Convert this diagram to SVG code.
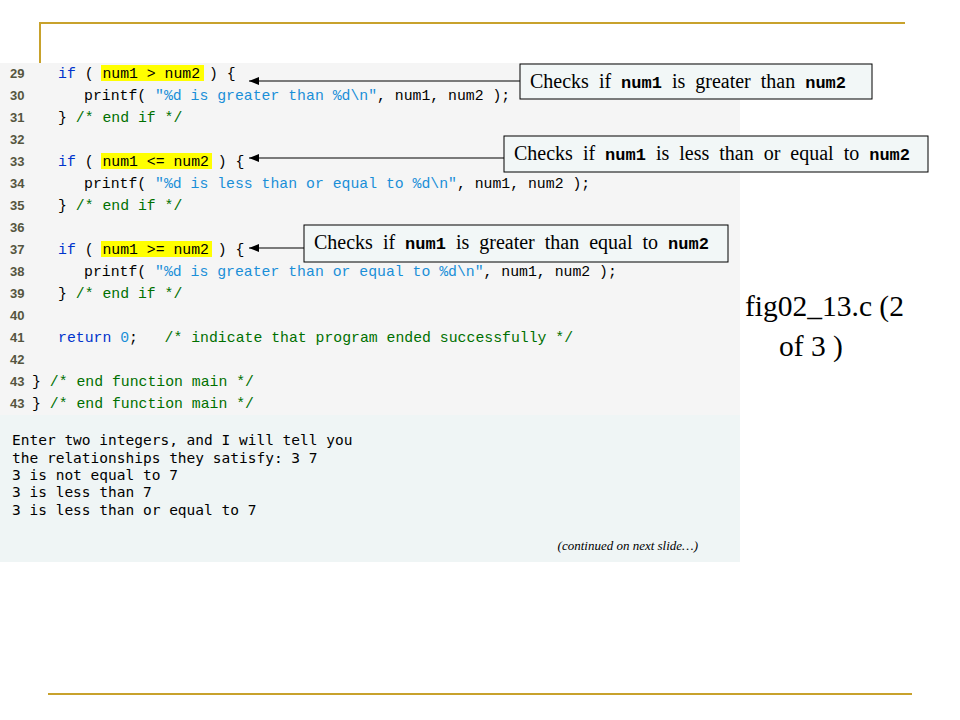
<svg xmlns="http://www.w3.org/2000/svg" width="960" height="720" viewBox="0 0 960 720" xml:space="preserve">
<style>
.c{font-family:"Liberation Mono","DejaVu Sans Mono",monospace;font-size:14.8px;fill:#000;white-space:pre}
.n{font-family:"Liberation Sans",Arial,sans-serif;font-size:13px;font-weight:bold;fill:#555540}
.k{fill:#0033cc}.s{fill:#1a8fd8}.g{fill:#007000}
.o{font-family:"DejaVu Sans Mono",monospace;font-size:14.5px;fill:#000}
.t{font-family:"Liberation Serif","Times New Roman",serif;font-size:20px;fill:#000;word-spacing:5px}
.b{font-family:"Liberation Mono",monospace;font-weight:bold;font-size:17px;word-spacing:0}
.box{fill:#f2f7f7;stroke:#000;stroke-width:1}
.hl{fill:#ffff00}
</style>
<defs><marker id="a" markerWidth="10" markerHeight="8" refX="10" refY="4" orient="auto" markerUnits="userSpaceOnUse"><path d="M0,0 L10,4 L0,8 Z" fill="#000"/></marker></defs>
<rect width="960" height="720" fill="#fff"/>
<path d="M40,63 V23 H905" fill="none" stroke="#c8a22c" stroke-width="2"/>
<line x1="48" y1="694" x2="912" y2="694" stroke="#c8a22c" stroke-width="2"/>
<rect x="0" y="63" width="740" height="352" fill="#f5f5f5"/>
<rect x="0" y="415" width="740" height="147" fill="#eff5f5"/>
<g id="code">
<rect class="hl" x="101" y="65" width="103" height="16"/>
<rect class="hl" x="101" y="153" width="111" height="16"/>
<rect class="hl" x="101" y="241" width="111" height="16"/>
<text class="n" x="10" y="78">29</text><text class="c" x="58" y="78"><tspan class="k">if</tspan> ( num1 &gt; num2 ) {</text>
<text class="n" x="10" y="100">30</text><text class="c" x="84" y="100">printf( <tspan class="s">"%d is greater than %d\n"</tspan>, num1, num2 );</text>
<text class="n" x="10" y="122">31</text><text class="c" x="58" y="122">} <tspan class="g">/* end if */</tspan></text>
<text class="n" x="10" y="144">32</text>
<text class="n" x="10" y="166">33</text><text class="c" x="58" y="166"><tspan class="k">if</tspan> ( num1 &lt;= num2 ) {</text>
<text class="n" x="10" y="188">34</text><text class="c" x="84" y="188">printf( <tspan class="s">"%d is less than or equal to %d\n"</tspan>, num1, num2 );</text>
<text class="n" x="10" y="210">35</text><text class="c" x="58" y="210">} <tspan class="g">/* end if */</tspan></text>
<text class="n" x="10" y="232">36</text>
<text class="n" x="10" y="254">37</text><text class="c" x="58" y="254"><tspan class="k">if</tspan> ( num1 &gt;= num2 ) {</text>
<text class="n" x="10" y="276">38</text><text class="c" x="84" y="276">printf( <tspan class="s">"%d is greater than or equal to %d\n"</tspan>, num1, num2 );</text>
<text class="n" x="10" y="298">39</text><text class="c" x="58" y="298">} <tspan class="g">/* end if */</tspan></text>
<text class="n" x="10" y="320">40</text>
<text class="n" x="10" y="342">41</text><text class="c" x="58" y="342"><tspan class="k">return</tspan> <tspan class="s">0</tspan>;   <tspan class="g">/* indicate that program ended successfully */</tspan></text>
<text class="n" x="10" y="364">42</text>
<text class="n" x="10" y="386">43</text><text class="c" x="32" y="386">} <tspan class="g">/* end function main */</tspan></text>
<text class="n" x="10" y="408">43</text><text class="c" x="32" y="408">} <tspan class="g">/* end function main */</tspan></text>
</g>
<g id="output">
<text class="o" x="12" y="445">Enter two integers, and I will tell you</text>
<text class="o" x="12" y="463">the relationships they satisfy: 3 7</text>
<text class="o" x="12" y="480">3 is not equal to 7</text>
<text class="o" x="12" y="497">3 is less than 7</text>
<text class="o" x="12" y="515">3 is less than or equal to 7</text>
<text x="698" y="550" text-anchor="end" font-family="Liberation Serif,serif" font-style="italic" font-size="13px">(continued on next slide…)</text>
</g>
<g id="connectors" stroke="#000" stroke-width="1.2">
<line x1="520" y1="81" x2="249" y2="81" marker-end="url(#a)"/>
<line x1="504" y1="158" x2="249" y2="158" marker-end="url(#a)"/>
<line x1="304" y1="248" x2="249" y2="248" marker-end="url(#a)"/>
</g>
<g id="note1"><rect class="box" x="520" y="64" width="352" height="35"/><text class="t" x="530" y="88">Checks if <tspan class="b">num1</tspan> is greater than <tspan class="b">num2</tspan></text></g>
<g id="note2"><rect class="box" x="504" y="136" width="424" height="36"/><text class="t" x="514" y="160">Checks if <tspan class="b">num1</tspan> is less than or equal to <tspan class="b">num2</tspan></text></g>
<g id="note3"><rect class="box" x="304" y="225" width="424" height="37"/><text class="t" x="314" y="249">Checks if <tspan class="b">num1</tspan> is greater than equal to <tspan class="b">num2</tspan></text></g>
<g id="title"><text x="745" y="316" font-family="Liberation Serif,serif" font-size="29.5px">fig02_13.c (2</text><text x="779" y="356" font-family="Liberation Serif,serif" font-size="29.5px">of 3 )</text></g>
</svg>
